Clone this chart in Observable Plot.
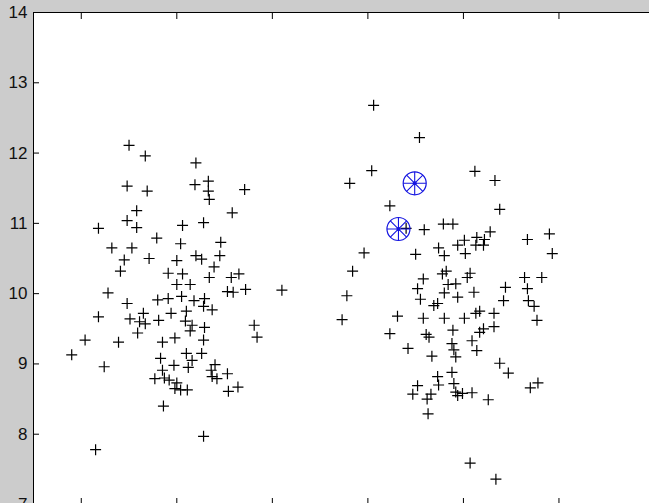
<!DOCTYPE html>
<html>
<head>
<meta charset="utf-8">
<script src="https://cdn.jsdelivr.net/npm/d3@7"></script>
<script src="https://cdn.jsdelivr.net/npm/@observablehq/plot@0.6"></script>
<style>
  html, body { margin: 0; padding: 0; overflow: hidden; background: #cccccc; }
</style>
</head>
<body>
<div id="chart"></div>
<script>
// ---- data ----
const xTicks = [1, 2, 3, 4, 5, 6];
const yTicks = [7, 8, 9, 10, 11, 12, 13, 14];

const leftX = [1.50,1.67,2.20,1.48,1.69,2.19,2.33,2.33,2.34,2.71,1.58,2.58,1.48,1.58,1.18,2.06,2.28,1.79,2.04,2.46,1.32,1.53,1.45,1.71,2.20,2.26,2.45,1.41,2.00,2.39,1.91,2.06,2.34,2.57,2.65,2.00,2.14,1.28,2.72,3.10,2.53,2.59,
  1.48,1.80,1.91,2.05,2.18,2.29,
  1.18,1.51,1.65,1.61,1.67,1.81,1.94,2.10,2.28,2.37,2.09,2.16,2.14,2.29,1.59,1.04,1.39,1.85,1.98,2.28,2.81,2.84,0.90,1.24,1.83,2.10,2.26,2.16,1.97,2.12,2.40,2.36,2.53,2.37,2.42,1.85,1.77,1.87,1.92,2.00,1.98,2.04,2.11,2.54,2.64,1.86,2.28,1.15];
const leftY = [12.11,11.96,11.86,11.53,11.46,11.55,11.60,11.46,11.34,11.48,11.18,11.15,11.04,10.94,10.93,10.97,11.01,10.79,10.71,10.73,10.65,10.65,10.48,10.50,10.54,10.49,10.54,10.32,10.47,10.38,10.29,10.28,10.23,10.23,10.28,10.13,10.13,10.01,10.06,10.05,10.03,10.02,
  9.86,9.91,9.93,9.96,9.90,9.93,
  9.67,9.64,9.72,9.60,9.57,9.62,9.72,9.75,9.82,9.77,9.61,9.55,9.47,9.52,9.44,9.34,9.31,9.31,9.37,9.34,9.55,9.38,9.13,8.96,9.08,9.15,9.15,9.05,8.98,8.95,8.99,8.91,8.86,8.82,8.79,8.91,8.79,8.80,8.77,8.73,8.65,8.63,8.63,8.61,8.67,8.40,7.97,7.78];

const rightX = [4.06,4.54,4.04,3.81,5.12,5.33,5.38,4.23,4.40,4.59,
  4.79,4.89,5.28,5.67,5.90,3.96,4.50,4.74,4.94,5.01,
  5.14,5.22,5.13,5.21,5.02,4.80,5.93,3.84,4.58,4.78,
  4.82,5.07,5.04,3.78,4.52,4.55,4.84,4.92,4.80,4.94,
  5.11,4.69,4.73,5.44,5.42,5.64,5.82,5.67,5.68,5.74,
  5.77,3.73,4.31,4.58,4.80,5.01,5.13,5.17,5.32,5.32,
  5.21,5.17,4.23,4.61,4.64,4.89,5.09,4.42,4.88,4.90,
  4.92,5.14,4.67,5.38,5.47,4.88,4.73,4.74,4.52,4.47,
  4.90,4.92,4.94,4.99,5.09,4.66,4.62,5.26,5.78,5.70,
  4.63,5.07,5.34];
const rightY = [12.68,12.22,11.75,11.57,11.74,11.61,11.20,11.25,10.93,10.91,
  10.99,10.99,10.88,10.77,10.85,10.58,10.56,10.65,10.69,10.76,
  10.80,10.77,10.69,10.69,10.57,10.54,10.57,10.32,10.21,10.28,
  10.32,10.29,10.23,9.97,10.07,9.92,10.13,10.14,10.01,9.95,
  10.02,9.83,9.86,10.09,9.90,10.23,10.23,10.07,9.90,9.82,
  9.62,9.63,9.68,9.65,9.65,9.65,9.72,9.75,9.72,9.53,
  9.50,9.45,9.43,9.42,9.38,9.48,9.33,9.22,9.29,9.20,
  9.10,9.19,9.11,9.01,8.87,8.88,8.82,8.70,8.69,8.57,
  8.72,8.60,8.55,8.58,8.59,8.57,8.50,8.49,8.73,8.66,
  8.29,7.59,7.36];

const centroidX = [4.49, 4.32];
const centroidY = [11.57, 10.92];

// ---- build tables ----
const points = leftX.map((x, i) => ({x, y: leftY[i]}))
  .concat(rightX.map((x, i) => ({x, y: rightY[i]})));
const centroids = centroidX.map((x, i) => ({x, y: centroidY[i]}));

// custom line symbols
const plusSymbol = {
  draw(ctx, size) {
    const r = Math.sqrt(size / Math.PI);
    ctx.moveTo(-r, 0); ctx.lineTo(r, 0);
    ctx.moveTo(0, -r); ctx.lineTo(0, r);
  }
};
const starSymbol = {
  draw(ctx, size) {
    const r = Math.sqrt(size / Math.PI);
    for (let k = 0; k < 4; k++) {
      const a = k * Math.PI / 4;
      ctx.moveTo(-r * Math.cos(a), -r * Math.sin(a));
      ctx.lineTo(r * Math.cos(a), r * Math.sin(a));
    }
  }
};

const blue = "#1414e0";
const noLabel = () => "";

const chart = Plot.plot({
  width: 660,
  height: 505,
  marginLeft: 33,
  marginRight: 6,
  marginTop: 12,
  marginBottom: 1,
  style: {
    background: "#cccccc",
    maxWidth: "none",
    fontFamily: "'Liberation Sans', Arial, sans-serif",
    fontSize: "17px"
  },
  x: {domain: [0.5, 7]},
  y: {domain: [7, 14]},
  marks: [
    Plot.frame({fill: "white", stroke: "#000", strokeWidth: 1}),
    // inward ticks
    Plot.axisX(xTicks, {anchor: "top", tickSize: 6, dy: 6, tickFormat: noLabel, label: null, stroke: "#000"}),
    Plot.axisX(xTicks, {anchor: "bottom", tickSize: 6, dy: -6, tickFormat: noLabel, label: null, stroke: "#000"}),
    Plot.axisY(yTicks, {anchor: "left", tickSize: 6, dx: 6, tickFormat: noLabel, label: null, stroke: "#000"}),
    Plot.axisY(yTicks, {anchor: "right", tickSize: 6, dx: -6, tickFormat: noLabel, label: null, stroke: "#000"}),
    // y tick labels
    Plot.axisY(yTicks, {anchor: "left", tickSize: 0, tickPadding: 6, fontSize: 17, tickFormat: d => String(d), label: null, fill: "#111"}),
    // data points
    Plot.dot(points, {x: "x", y: "y", symbol: plusSymbol, r: 5.5, stroke: "#000", fill: "none", strokeWidth: 1.2}),
    // centroids
    Plot.dot(centroids, {x: "x", y: "y", symbol: "circle", r: 11.5, stroke: blue, fill: "none", strokeWidth: 1.2}),
    Plot.dot(centroids, {x: "x", y: "y", symbol: starSymbol, r: 11.5, stroke: blue, fill: "none", strokeWidth: 1.1}),
    Plot.dot(centroids, {x: "x", y: "y", r: 2, fill: blue, stroke: null})
  ]
});

document.getElementById("chart").appendChild(chart);
</script>
</body>
</html>
